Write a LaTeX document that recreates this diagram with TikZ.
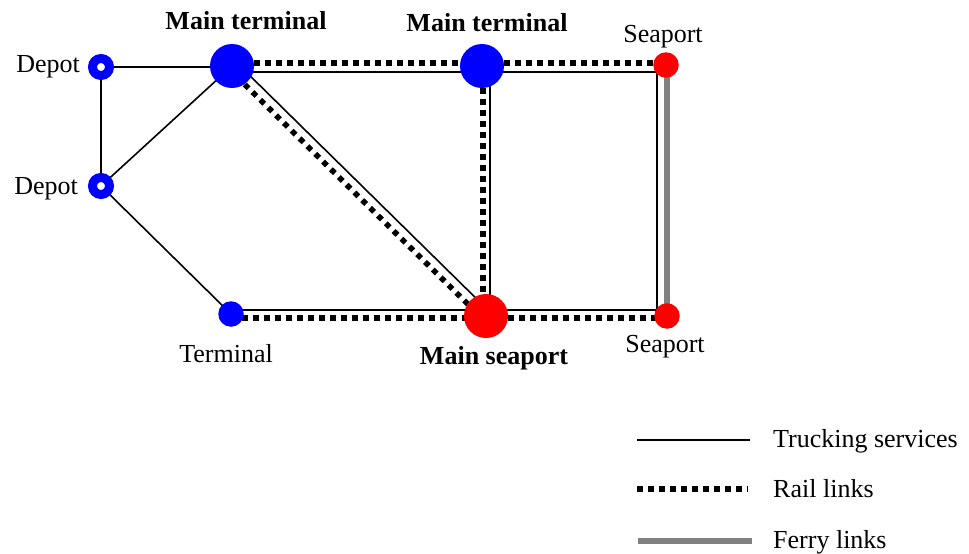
\documentclass[tikz,border=0pt]{standalone}
\usepackage{fontspec}
\setmainfont{Liberation Serif}
\usetikzlibrary{backgrounds}
\definecolor{ferrygray}{RGB}{128,128,128}
\begin{document}
\begin{tikzpicture}[x=1pt,y=-1pt,
  truck/.style={line width=1.6pt,black},
  rail/.style={line width=5.5pt,black,dash pattern=on 5.5pt off 5.5pt},
  ferry/.style={line width=6.5pt,ferrygray},
  depot/.style={circle,draw=blue,fill=white,line width=9pt,minimum size=17pt,inner sep=0pt},
  bignode/.style={circle,fill=#1,minimum size=44pt,inner sep=0pt},
  smallnode/.style={circle,fill=#1,minimum size=25.5pt,inner sep=0pt},
  lbl/.style={font=\fontsize{26}{30}\selectfont,inner sep=0pt,anchor=base},
  blbl/.style={font=\fontsize{26}{30}\selectfont\bfseries,inner sep=0pt,anchor=base},
  leg/.style={font=\fontsize{26}{30}\selectfont,inner sep=0pt,anchor=base west}]
\useasboundingbox (0,0) rectangle (969,554);
% nodes
\node[depot] (d1) at (101,67) {};
\node[depot] (d2) at (101,186) {};
\node[bignode=blue] (mt1) at (232,66) {};
\node[bignode=blue] (mt2) at (482,66) {};
\node[smallnode=red] (st) at (666,65) {};
\node[smallnode=blue] (tm) at (231,314) {};
\node[bignode=red] (ms) at (486,316) {};
\node[smallnode=red] (sb) at (667,316) {};
% edges
\begin{scope}[on background layer]
  % trucking
  \draw[truck] (d1.center) -- (d1.center -| mt1.center);
  \draw[truck] (d1.center) -- (d2.center);
  \draw[truck] (d2.center) -- (mt1.center);
  \draw[truck] (d2.center) -- (tm.center);
  \draw[truck] ([yshift=-6pt]mt1.center) -- ([yshift=-6pt]mt2.center);
  \draw[truck] ([yshift=-6pt]mt2.center) -- ([xshift=-9pt,yshift=-7pt]st.center)
               -- ([xshift=-10pt,yshift=6pt]sb.center) -- ([yshift=6pt]ms.center);
  \draw[truck] ([yshift=4pt]tm.center) -- ([yshift=6pt]ms.center);
  \draw[truck] ([xshift=8pt]mt2.center) -- ([xshift=4pt]ms.center);
  \draw[truck] ([xshift=4pt,yshift=4pt]mt1.center) -- ([xshift=4pt,yshift=4pt]ms.center);
  % rail
  \draw[rail] ([yshift=3pt]mt1.center) -- ([yshift=3pt]mt2.center);
  \draw[rail] ([yshift=3pt]mt2.center) -- ([yshift=2pt]st.center);
  \draw[rail] ([xshift=1pt]mt2.center) -- ([xshift=-3pt]ms.center);
  \draw[rail] ([xshift=-3pt,yshift=-3pt]mt1.center) -- ([xshift=-3pt,yshift=-3pt]ms.center);
  \draw[rail] ([yshift=-4pt]tm.center) -- ([yshift=-2pt]ms.center);
  \draw[rail] ([yshift=-2pt]ms.center) -- ([yshift=-2pt]sb.center);
  % ferry
  \draw[ferry] ([xshift=1pt]st.center) -- (sb.center);
\end{scope}
% labels
\node[lbl,anchor=base east] (ld1) at (80,72) {Depot};
\node[lbl,anchor=base east] (ld2) at (78,194) {Depot};
\node[blbl] (lmt1) at (246,29) {Main terminal};
\node[blbl] (lmt2) at (487,31) {Main terminal};
\node[lbl] (lst) at (663,42) {Seaport};
\node[lbl] (ltm) at (226,362) {Terminal};
\node[blbl] (lms) at (494,364) {Main seaport};
\node[lbl] (lsb) at (665,352) {Seaport};
% legend
\coordinate (l1a) at (637,440); \coordinate (l1b) at (750,440);
\coordinate (l2a) at (637,489); \coordinate (l2b) at (748,489);
\coordinate (l3a) at (638,541); \coordinate (l3b) at (752,541);
\draw[truck] (l1a) -- (l1b);
\draw[rail] (l2a) -- (l2b);
\draw[ferry] (l3a) -- (l3b);
\node[leg] (t1) at (773,447) {Trucking services};
\node[leg] (t2) at (773,497) {Rail links};
\node[leg] (t3) at (773,548) {Ferry links};
\end{tikzpicture}
\end{document}
